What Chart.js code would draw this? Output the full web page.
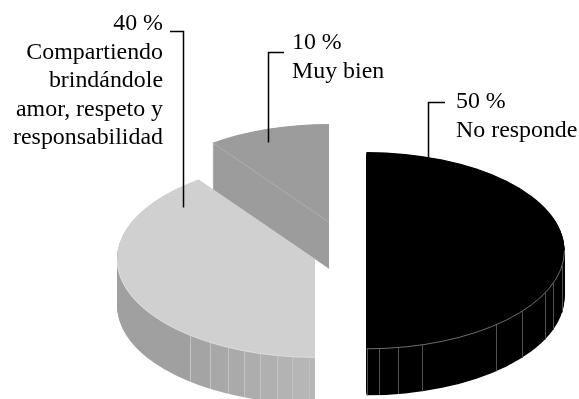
<!DOCTYPE html>
<html>
<head>
<meta charset="utf-8">
<title>Pie</title>
<style>
  html, body { margin: 0; padding: 0; background: #fff; }
  canvas { display: block; }
</style>
<script src="https://cdn.jsdelivr.net/npm/chart.js@4"></script>
</head>
<body>
<canvas id="pie" width="579" height="399"></canvas>
<script>
// clockwise from twelve o'clock
const values = [50, 40, 10];
const categories = [
  ["No responde"],
  ["Compartiendo", "brindándole", "amor, respeto y", "responsabilidad"],
  ["Muy bien"],
];
const topColors = ["#000000", "#d0d0d0", "#9c9c9c"];
const rimColors = ["#8a8a8a", "#e4e4e4", null];

// where each pulled-out slice sits, back slice painted first
const sliceCenters = [
  { x: 366.5, y: 250.4 },
  { x: 315, y: 259 },
  { x: 329, y: 222.3 },
];
const paintOrder = [2, 0, 1];
const squash = 0.497;
const depth = 46.5;

// side wall facets: x of each seam, and the shade between seams
const facetSeams = [
  [367, 379, 398, 422, 496, 522, 545, 553, 562],
  [190, 210, 228, 244, 260, 277, 292, 309],
  [],
];
const facetShades = [
  ["#000000"],
  ["#a0a0a0", "#a4a4a4", "#a8a8a8", "#aaaaaa", "#adadad", "#b0b0b0", "#b3b3b3", "#b6b6b6", "#b8b8b8"],
  ["#9c9c9c"],
];
const seamColors = ["#505050", "#c2c2c2", null];

const labelSpots = [
  { x: 456, y: 108, align: "left", leader: [[445, 102], [428, 102], [428, 157]] },
  { x: 163, y: 30, align: "right", leader: [[170, 31], [183, 31], [183, 207]] },
  { x: 292, y: 49, align: "left", leader: [[284, 52], [268, 52], [268, 142]] },
];

function sideFill(ctx, arc, i) {
  const shades = facetShades[i];
  if (shades.length === 1) return shades[0];
  // gradient runs in the slice's local x, with hard stops at the seams
  const c = sliceCenters[i];
  const r = arc.outerRadius;
  const left = c.x - r;
  const right = c.x + r;
  const grad = ctx.createLinearGradient(arc.x - r, 0, arc.x + r, 0);
  const seams = facetSeams[i];
  shades.forEach((shade, n) => {
    const from = n === 0 ? left : seams[n - 1];
    const to = n === seams.length ? right : seams[n];
    grad.addColorStop((from - left) / (right - left), shade);
    grad.addColorStop((to - left) / (right - left), shade);
  });
  return grad;
}

function drawArcAt(ctx, arc, c, drop) {
  ctx.save();
  ctx.translate(c.x, c.y + drop);
  ctx.scale(1, squash);
  ctx.translate(-arc.x, -arc.y);
  arc.draw(ctx);
  ctx.restore();
}

function drawSlice(ctx, arc, i) {
  const c = sliceCenters[i];
  const r = arc.outerRadius;
  const faceOptions = arc.options;

  // side wall: the same arc stacked down pixel by pixel
  arc.options = Object.assign({}, faceOptions, { backgroundColor: sideFill(ctx, arc, i) });
  for (let d = depth; d > 0; d--) drawArcAt(ctx, arc, c, d);
  arc.options = faceOptions;

  facetSeams[i].forEach((x) => {
    const top = c.y + squash * Math.sqrt(r * r - (x - c.x) * (x - c.x));
    ctx.beginPath();
    ctx.moveTo(x + 0.5, top);
    ctx.lineTo(x + 0.5, top + depth);
    ctx.strokeStyle = seamColors[i];
    ctx.lineWidth = 1;
    ctx.stroke();
  });

  drawArcAt(ctx, arc, c, 0);

  // light rim where the top face meets the front wall
  if (rimColors[i]) {
    ctx.save();
    ctx.translate(c.x, c.y);
    ctx.scale(1, squash);
    ctx.beginPath();
    ctx.arc(0, 0, r, Math.max(arc.startAngle, 0), Math.min(arc.endAngle, Math.PI));
    ctx.restore();
    ctx.strokeStyle = rimColors[i];
    ctx.lineWidth = 0.8;
    ctx.stroke();
  }

  // the small slice shows its cut face, marked off by a faint edge
  if (!rimColors[i]) {
    ctx.beginPath();
    ctx.moveTo(c.x, c.y);
    ctx.lineTo(
      c.x + r * Math.cos(arc.startAngle),
      c.y + squash * r * Math.sin(arc.startAngle)
    );
    ctx.strokeStyle = "#b4b4b4";
    ctx.lineWidth = 0.8;
    ctx.stroke();
  }
}

const piePaint = {
  id: "piePaint",
  beforeDatasetsDraw(chart) {
    const arcs = chart.getDatasetMeta(0).data;
    paintOrder.forEach((i) => drawSlice(chart.ctx, arcs[i], i));
    return false;
  },
  afterDraw(chart) {
    const ctx = chart.ctx;
    ctx.save();
    ctx.fillStyle = "#000";
    ctx.font = '23.9px "Liberation Serif"';
    ctx.textBaseline = "alphabetic";
    labelSpots.forEach((spot, i) => {
      ctx.textAlign = spot.align;
      [`${values[i]} %`, ...categories[i]].forEach((line, n) => {
        ctx.fillText(line, spot.x, spot.y + n * 28.6);
      });
      ctx.beginPath();
      spot.leader.forEach(([x, y], n) => {
        if (n === 0) ctx.moveTo(x, y + 0.5);
        else ctx.lineTo(x + 0.5, y + 0.5);
      });
      ctx.strokeStyle = "#000";
      ctx.lineWidth = 1.5;
      ctx.stroke();
    });
    ctx.restore();
  },
};

new Chart(document.getElementById("pie"), {
  type: "pie",
  data: {
    labels: categories.map((c) => c.join(" ")),
    datasets: [{
      data: values,
      backgroundColor: topColors,
      borderWidth: 0,
      radius: 198,
    }],
  },
  options: {
    responsive: false,
    animation: false,
    plugins: {
      legend: { display: false },
      tooltip: { enabled: false },
    },
  },
  plugins: [piePaint],
});
</script>
</body>
</html>
